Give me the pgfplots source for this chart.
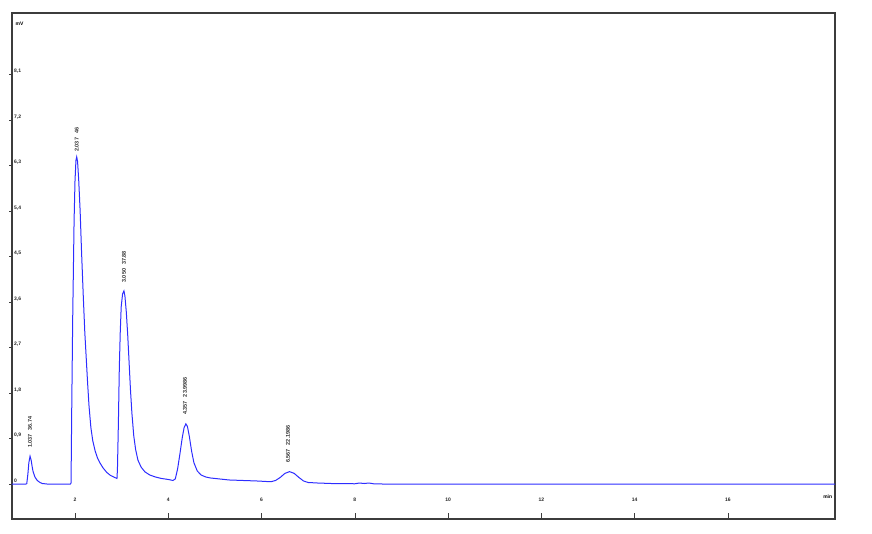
\documentclass[border=0pt]{standalone}
\usepackage{pgfplots}
\pgfplotsset{compat=1.18}
\usepackage{fontspec}
\setmainfont{Liberation Sans}
\definecolor{trace}{RGB}{45,45,255}
\definecolor{frame}{RGB}{60,60,60}
\begin{document}
\begin{tikzpicture}[x=1pt,y=1pt]
\path[use as bounding box] (0,0) rectangle (872,533);
\begin{axis}[
  at={(12pt,14pt)}, anchor=south west,
  width=823pt, height=506pt, scale only axis,
  xmin=0.649, xmax=18.295, ymin=-0.692, ymax=9.317,
  axis line style={frame, line width=1.4pt},
  xtick={2,4,6,8,10,12,14,16},
  ytick={0,0.9,1.8,2.7,3.6,4.5,5.4,6.3,7.2,8.1},
  xtick pos=bottom, ytick pos=left,
  tick align=inside, major tick length=6pt,
  xtick style={frame, line width=0.7pt},
  ytick style={frame, line width=0.9pt, xshift=-2.5pt, /pgfplots/major tick length=2.5pt},
  /pgf/number format/assume math mode=true,
  yticklabel style={/pgf/number format/.cd, fixed, precision=1, use comma, /tikz/.cd, anchor=south west, font=\fontsize{5}{6}\selectfont\bfseries, inner sep=1pt, xshift=1pt, text=black!85},
  xticklabel style={anchor=center, font=\fontsize{5}{6}\selectfont\bfseries, yshift=19pt, text=black!85},
  clip=false,
]
\addplot[trace, line width=1pt] coordinates {
(0.649,0.0) (0.95,0.0) (0.966,0.01) (0.99,0.2) (1.01,0.42) (1.036,0.55) (1.06,0.47) (1.08,0.35) (1.10,0.25) (1.14,0.14) (1.19,0.07) (1.25,0.03) (1.30,0.01) (1.40,0.0) (1.90,0.0)
(1.915,0.02) (1.93,1.5) (1.95,3.24) (1.98,5.2) (2.00,6.0) (2.02,6.40) (2.036,6.47) (2.055,6.38) (2.08,6.0) (2.11,5.4) (2.14,4.6) (2.178,3.7) (2.21,3.0) (2.24,2.5) (2.27,2.0) (2.30,1.55) (2.34,1.12) (2.38,0.86) (2.43,0.66) (2.48,0.52) (2.54,0.41) (2.60,0.32) (2.68,0.23) (2.76,0.17) (2.85,0.13) (2.90,0.11)
(2.91,0.3) (2.93,1.2) (2.95,2.3) (2.97,3.0) (2.99,3.5) (3.02,3.76) (3.049,3.82) (3.07,3.72) (3.10,3.4) (3.13,2.95) (3.16,2.4) (3.19,1.85) (3.22,1.4) (3.26,0.95) (3.30,0.68) (3.35,0.47) (3.42,0.33) (3.50,0.24) (3.60,0.18) (3.72,0.14) (3.85,0.11) (4.0,0.09) (4.10,0.07)
(4.15,0.1) (4.20,0.3) (4.25,0.6) (4.30,0.92) (4.34,1.12) (4.377,1.19) (4.41,1.14) (4.45,0.95) (4.50,0.65) (4.55,0.42) (4.62,0.26) (4.70,0.18) (4.80,0.14) (4.90,0.12) (5.1,0.10) (5.3,0.08) (5.6,0.07) (5.9,0.06) (6.2,0.045)
(6.3,0.07) (6.4,0.13) (6.5,0.21) (6.6,0.245) (6.7,0.21) (6.8,0.13) (6.9,0.06) (7.0,0.03) (7.2,0.02) (7.5,0.01) (8.0,0.005) (8.1,0.02) (8.2,0.01) (8.3,0.02) (8.4,0.005) (8.6,0.0) (18.295,0.0)
};
\node[anchor=north west, font=\fontsize{5}{6}\selectfont\bfseries, inner sep=1pt] at (rel axis cs:0.003,0.985) {mV};
\node[anchor=east, font=\fontsize{5}{6}\selectfont\bfseries, inner sep=1pt] at (rel axis cs:0.998,0.045) {min};
\begin{scope}[every node/.style={rotate=90, anchor=west, font=\fontsize{5.5}{6}\selectfont\bfseries, inner sep=0pt, text=black!80}]
\node at (axis cs:1.037,0.71) {1.037\hspace{4pt}36.74};
\node at (axis cs:2.037,6.57) {2.037\hspace{4pt}46};
\node at (axis cs:3.050,3.98) {3.050\hspace{4pt}37.88};
\node at (axis cs:4.357,1.365) {4.357\hspace{4pt}23.9986};
\node at (axis cs:6.567,0.415) {6.567\hspace{4pt}22.1986};
\end{scope}
\end{axis}
\end{tikzpicture}
\end{document}
